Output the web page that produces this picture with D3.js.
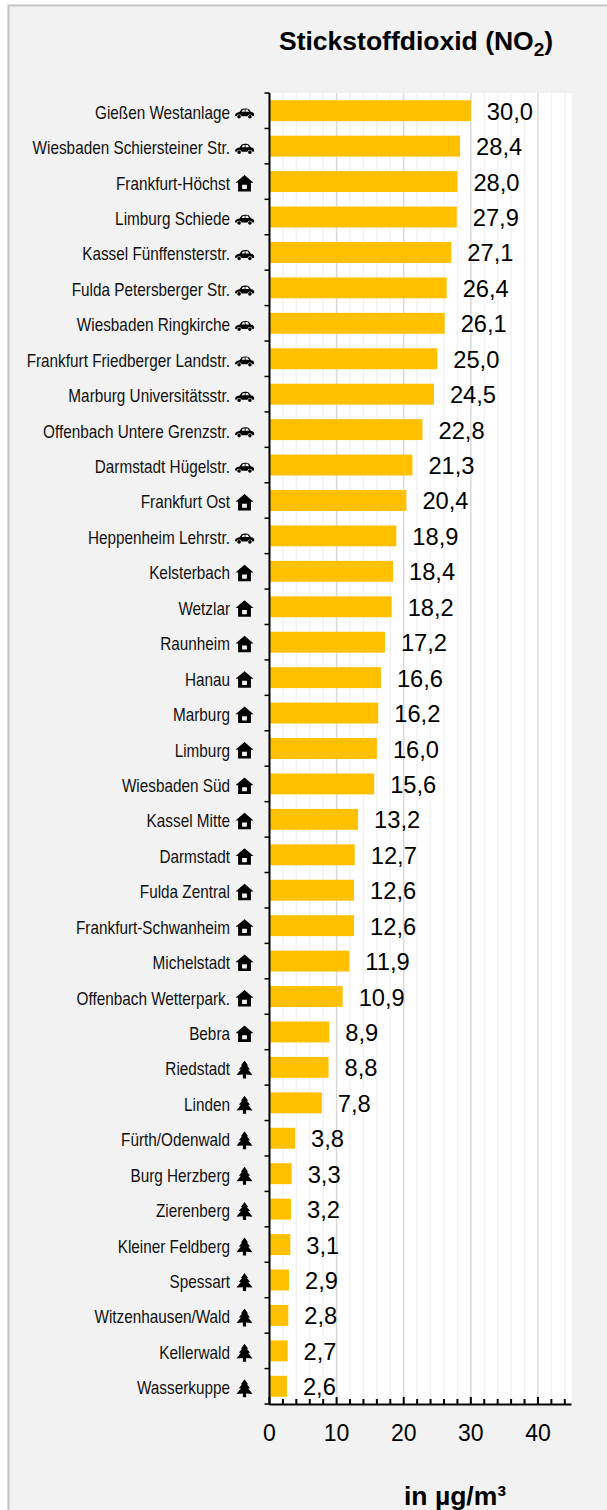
<!DOCTYPE html>
<html>
<head>
<meta charset="utf-8">
<script src="https://cdn.jsdelivr.net/npm/d3@7"></script>
<style>
    html, body { margin: 0; padding: 0; background: #fff; }
    svg { display: block; font-family: "Liberation Sans", Arial, sans-serif; }
</style>
</head>
<body>
<div id="container"></div>
<script>
/* CONSTANTS AND GLOBALS */
const width = 607,
    height = 1510,
    margin = { top: 93, right: 35.5, bottom: 106, left: 269.5 };

/* DATA */
const stations = ["Gießen Westanlage", "Wiesbaden Schiersteiner Str.", "Frankfurt-Höchst", "Limburg Schiede",
    "Kassel Fünffensterstr.", "Fulda Petersberger Str.", "Wiesbaden Ringkirche", "Frankfurt Friedberger Landstr.",
    "Marburg Universitätsstr.", "Offenbach Untere Grenzstr.", "Darmstadt Hügelstr.", "Frankfurt Ost",
    "Heppenheim Lehrstr.", "Kelsterbach", "Wetzlar", "Raunheim", "Hanau", "Marburg", "Limburg", "Wiesbaden Süd",
    "Kassel Mitte", "Darmstadt", "Fulda Zentral", "Frankfurt-Schwanheim", "Michelstadt", "Offenbach Wetterpark.",
    "Bebra", "Riedstadt", "Linden", "Fürth/Odenwald", "Burg Herzberg", "Zierenberg", "Kleiner Feldberg",
    "Spessart", "Witzenhausen/Wald", "Kellerwald", "Wasserkuppe"];
const values = [30.0, 28.4, 28.0, 27.9, 27.1, 26.4, 26.1, 25.0, 24.5, 22.8, 21.3, 20.4, 18.9, 18.4, 18.2, 17.2,
    16.6, 16.2, 16.0, 15.6, 13.2, 12.7, 12.6, 12.6, 11.9, 10.9, 8.9, 8.8, 7.8, 3.8, 3.3, 3.2, 3.1, 2.9, 2.8, 2.7, 2.6];
const types = ["car", "car", "house", "car", "car", "car", "car", "car", "car", "car", "car", "house", "car",
    "house", "house", "house", "house", "house", "house", "house", "house", "house", "house", "house", "house",
    "house", "house", "tree", "tree", "tree", "tree", "tree", "tree", "tree", "tree", "tree", "tree"];
const xMajorTicks = [0, 10, 20, 30, 40];
const xMinorTicks = d3.range(0, 45, 2);

const icons = {
    car: "M-9.5 3.4 C-9.8 1 -8 -0.1 -5 -0.6 L-2.8 -3.6 C-1 -4.6 3 -4.6 4.4 -3.4 L6.6 -0.6 C8.7 -0.4 10 0.8 9.7 3.4 L7.9 3.6 A2.6 2.6 0 0 0 2.9 3.6 L-2.9 3.6 A2.6 2.6 0 0 0 -7.9 3.6 Z M-1.6 -3 L-2.9 -0.9 L0.2 -0.9 L0.2 -3.2 Z M1 -3.2 L1 -0.9 L4.6 -0.9 L3.2 -3.2 Z M-7.2 4 A1.8 1.8 0 1 0 -3.6 4 A1.8 1.8 0 1 0 -7.2 4 Z M3.6 4 A1.8 1.8 0 1 0 7.2 4 A1.8 1.8 0 1 0 3.6 4 Z",
    house: "M0 -8.5 L9 -0.8 L6.4 -0.8 L6.4 8 L-6.4 8 L-6.4 -0.8 L-9 -0.8 Z M-2.4 1.2 L-2.4 5.4 L2.4 5.4 L2.4 1.2 Z",
    tree: "M0 -9 L3.6 -4 L2.4 -4 L5.6 0 L3.6 0 L8 5.6 L1.6 5.2 L1.6 9 L-1.6 9 L-1.6 5.2 L-8 5.6 L-3.6 0 L-5.6 0 L-2.4 -4 L-3.6 -4 Z"
};

const svg = d3.select("#container")
    .append("svg")
    .attr("width", width)
    .attr("height", height);

// PANEL
svg.append("rect")
    .attr("x", 8.5).attr("y", 5.5)
    .attr("width", width + 10).attr("height", height + 10)
    .attr("fill", "#f2f2f2")
    .attr("stroke", "#c4c4c4")
    .attr("stroke-width", 2);

// SCALES
const xScale = d3.scaleLinear()
    .domain([0, 45])
    .range([margin.left, width - margin.right]);

const yScale = d3.scaleBand()
    .domain(stations)
    .range([margin.top, height - margin.bottom])
    .paddingInner(0.41)
    .paddingOuter(0.205);

const bottom = height - margin.bottom;
const step = yScale.step();

// PLOT BACKGROUND
svg.append("rect")
    .attr("x", margin.left).attr("y", margin.top)
    .attr("width", xScale(45) - margin.left).attr("height", bottom - margin.top)
    .attr("fill", "#fff");

// GRID
svg.append("g")
    .selectAll("line")
    .data(xMinorTicks)
    .join("line")
    .attr("x1", d => xScale(d)).attr("x2", d => xScale(d))
    .attr("y1", margin.top).attr("y2", bottom)
    .attr("stroke", d => d % 10 === 0 ? "#d9d9d9" : "#f2f2f2")
    .attr("stroke-width", 1.5);

// BARS
svg.append("g")
    .selectAll("rect")
    .data(stations)
    .join("rect")
    .attr("x", xScale(0))
    .attr("y", d => yScale(d))
    .attr("width", (d, i) => xScale(values[i]) - xScale(0))
    .attr("height", yScale.bandwidth())
    .attr("fill", "#ffc000");

// VALUE LABELS
svg.append("g")
    .selectAll("text")
    .data(stations)
    .join("text")
    .attr("x", (d, i) => xScale(values[i]) + 16)
    .attr("y", d => yScale(d) + yScale.bandwidth() / 2 + 9)
    .style("font-size", "23.7px")
    .attr("fill", "#000")
    .text((d, i) => d3.format(".1f")(values[i]).replace(".", ","));

// AXES
const xAxis = svg.append("g")
    .attr("transform", "translate(-0.5," + bottom + ")")
    .call(d3.axisBottom(xScale).tickValues(xMajorTicks).tickSize(0).tickPadding(32));
xAxis.select(".domain").attr("stroke", "#000").attr("stroke-width", 2);
xAxis.selectAll("text")
    .style("font-family", "inherit")
    .style("font-size", "23px")
    .attr("dy", "0.2em")
    .attr("fill", "#000");

svg.append("g")
    .selectAll("line")
    .data(xMinorTicks)
    .join("line")
    .attr("x1", d => xScale(d)).attr("x2", d => xScale(d))
    .attr("y1", bottom)
    .attr("y2", d => bottom - (d % 10 === 0 ? 7 : 5))
    .attr("stroke", "#000")
    .attr("stroke-width", 2);

svg.append("line")
    .attr("x1", xScale(0)).attr("x2", xScale(0))
    .attr("y1", margin.top).attr("y2", bottom + 1)
    .attr("stroke", "#000")
    .attr("stroke-width", 2);

svg.append("g")
    .selectAll("line")
    .data(d3.range(stations.length + 1))
    .join("line")
    .attr("x1", xScale(0) - 5).attr("x2", xScale(0))
    .attr("y1", d => margin.top + d * step).attr("y2", d => margin.top + d * step)
    .attr("stroke", "#000")
    .attr("stroke-width", 1.5);

// STATION LABELS
svg.append("g")
    .selectAll("text")
    .data(stations)
    .join("text")
    .attr("transform", d => "translate(230," + (yScale(d) + yScale.bandwidth() / 2 + 8) + ") scale(0.875,1)")
    .attr("text-anchor", "end")
    .style("font-size", "17.5px")
    .attr("fill", "#111")
    .text(d => d);

// ICONS
svg.append("g")
    .selectAll("path")
    .data(stations)
    .join("path")
    .attr("transform", d => "translate(244.5," + (yScale(d) + yScale.bandwidth() / 2 + 2) + ")")
    .attr("d", (d, i) => icons[types[i]])
    .attr("fill", "#000")
    .attr("fill-rule", "evenodd");

// TITLE
const title = svg.append("text")
    .attr("x", 279)
    .attr("y", 50)
    .style("font-size", "26.5px")
    .style("font-weight", "bold")
    .attr("fill", "#000");
title.append("tspan").text("Stickstoffdioxid (NO");
title.append("tspan").attr("dy", 6).style("font-size", "19px").text("2");
title.append("tspan").attr("dy", -6).text(")");

svg.append("text")
    .attr("x", 404)
    .attr("y", 1505)
    .style("font-size", "26.5px")
    .style("font-weight", "bold")
    .attr("fill", "#000")
    .text("in µg/m³");
</script>
</body>
</html>
